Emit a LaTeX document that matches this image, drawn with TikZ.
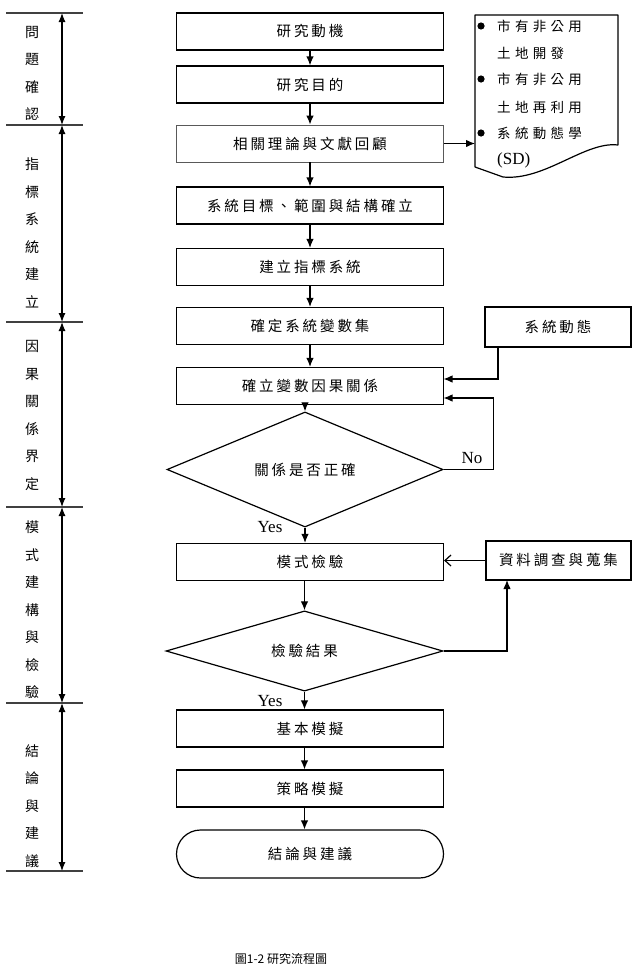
\documentclass[tikz,border=0pt]{standalone}
\usepackage{fontspec}
\setmainfont{Liberation Serif}
\newfontfamily\cjk{Noto Sans CJK TC}[LetterSpace=20]
\newfontfamily\cjkd{Noto Sans CJK TC}[LetterSpace=32]
\newfontfamily\cjkv{Noto Sans CJK TC}
\usetikzlibrary{arrows.meta,shapes.geometric}
\begin{document}
\begin{tikzpicture}[x=1pt,y=-1pt,
  box/.style={draw,line width=1.2pt,minimum width=267pt,minimum height=37pt,inner sep=0pt,font=\cjk\fontsize{14.5}{16}\selectfont},
  dia/.style={draw,shape=diamond,line width=1.2pt,inner sep=0pt,font=\cjk\fontsize{14.5}{16}\selectfont},
  arr/.style={line width=1.2pt,-{Latex[length=9pt,width=7.5pt]}},
  darr/.style={line width=1.2pt,{Latex[length=9pt,width=7pt]}-{Latex[length=9pt,width=7pt]}},
  sep/.style={line width=1.2pt,draw=black!75},
  lab/.style={font=\fontsize{17}{19}\selectfont,inner sep=0pt},
  side/.style={font=\cjkv\fontsize{14}{27.5}\selectfont,align=center,inner sep=0pt},
  doct/.style={font=\cjkd\fontsize{13.5}{15}\selectfont,anchor=west,inner sep=0pt}]
\fill[white] (0,0) rectangle (643,969);
\useasboundingbox (0,0) rectangle (643,969);

% left phase column
\foreach \yy in {13,125,322,507,703,871} \draw[sep] (6,\yy) -- (83,\yy);
\draw[darr] (62,13) -- (62,125);
\draw[darr] (62,125) -- (62,322);
\draw[darr] (62,322) -- (62,507);
\draw[darr] (62,507) -- (62,703);
\draw[darr] (62,703) -- (62,871);
\node[side] (p1) at (32,73.5) {問\\題\\確\\認};
\node[side] (p2) at (32,233) {指\\標\\系\\統\\建\\立};
\node[side] (p3) at (32,415.5) {因\\果\\關\\係\\界\\定};
\node[side] (p4) at (32,610) {模\\式\\建\\構\\與\\檢\\驗};
\node[side] (p5) at (32,806) {結\\論\\與\\建\\議};

% main flow
\node[box] (b1) at (310,31.5) {研究動機};
\node[box] (b2) at (310,84.5) {研究目的};
\node[box,draw=black!65,line width=0.9pt] (b3) at (310,143.5) {相關理論與文獻回顧};
\node[box] (b4) at (310,205.5) {系統目標、範圍與結構確立};
\node[box] (b5) at (310,267) {建立指標系統};
\node[box] (b6) at (310,326) {確定系統變數集};
\node[box] (b7) at (310,386) {確立變數因果關係};
\node[dia,minimum width=276pt,minimum height=75pt] (d1) at (305,469.5) {關係是否正確};
\node[box] (b8) at (310,562) {模式檢驗};
\node[dia,minimum width=277pt,minimum height=68pt] (d2) at (304.5,651) {檢驗結果};
\node[box] (b9) at (310,728.5) {基本模擬};
\node[box] (b10) at (310,788.5) {策略模擬};
\node[box,rounded corners=24pt,minimum height=48pt] (t) at (310,854) {結論與建議};

\draw[arr] (b1.south) -- (b2.north);
\draw[arr] (b2.south) -- (b3.north);
\draw[arr] (b3.south) -- (b4.north);
\draw[arr] (b4.south) -- (b5.north);
\draw[arr] (b5.south) -- (b6.north);
\draw[arr] (b6.south) -- (b7.north);
\draw[arr] (d1.north |- b7.south) -- (d1.north);
\draw[arr] (d1.south) -- (d1.south |- b8.north);
\draw[arr] (d2.north |- b8.south) -- (d2.north);
\draw[arr] (d2.south) -- (d2.south |- b9.north);
\draw[arr] (d2.south |- b9.south) -- (d2.south |- b10.north);
\draw[arr] (d2.south |- b10.south) -- (d2.south |- t.north);

\node[lab] (yes1) at (270,527) {Yes};
\node[lab] (yes2) at (270,701) {Yes};
\node[lab] (no) at (472,458) {No};

% right side boxes
\node[box,minimum width=146pt,minimum height=40pt] (sd) at (558,327) {系統動態};
\node[box,minimum width=145pt,minimum height=39pt] (data) at (558.5,560.5) {資料調查與蒐集};
\coordinate (sdo) at (498,347);
\coordinate (c1) at (443.5,379);
\draw[arr] (sdo) |- (c1);
\coordinate (c3) at (443.5,398);
\draw[arr] (d1.east) -- ++(50,0) |- (c3);
\draw[line width=1.2pt,-{Straight Barb[length=6pt,width=11pt]}] (data.west) -- (data.west -| b8.east);
\coordinate (c4) at (507,580);
\draw[arr] (d2.east) -| (c4);

% document shape
\draw[line width=1.2pt,line join=round] (475,167) -- (475,15) -- (618,15) -- (618,145)
  .. controls (585,141) and (545,181) .. (503,177) -- cycle;
\coordinate (docin) at (475,143.5);
\draw[arr] (b3.east) -- (docin);
\foreach \yy in {26,79,133} \fill (481,\yy) circle (3.6);
\node[doct] (t1) at (497,26) {市有非公用};
\node[doct] (t2) at (497,53) {土地開發};
\node[doct] (t3) at (497,79) {市有非公用};
\node[doct] (t4) at (497,107) {土地再利用};
\node[doct] (t5) at (497,133) {系統動態學};
\node[lab,anchor=west] (t6) at (497,160) {(SD)};

% caption
\node[font=\cjkv\fontsize{12}{14}\selectfont,anchor=north,inner sep=0pt] (cap) at (281,953) {圖1-2 研究流程圖};
\end{tikzpicture}
\end{document}
